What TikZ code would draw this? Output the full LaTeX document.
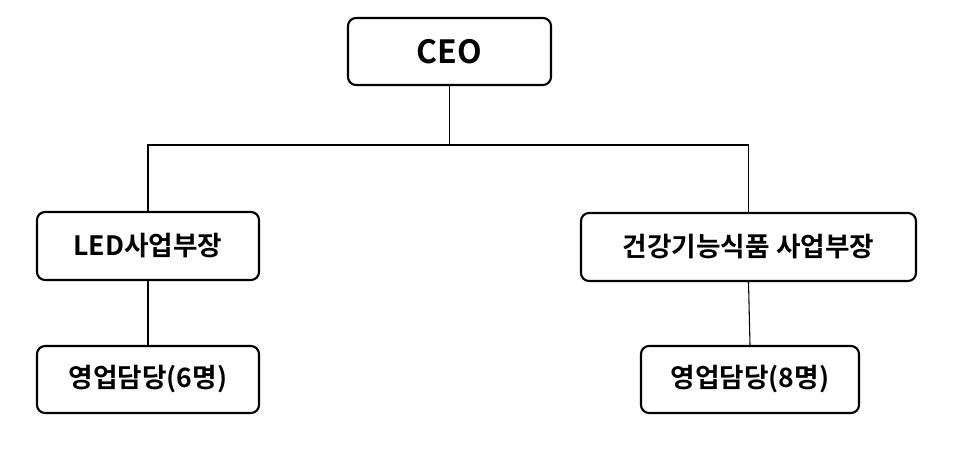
\documentclass[tikz,border=0pt]{standalone}
\usepackage{fontspec}
\setmainfont{Noto Sans CJK KR}[BoldFont={Noto Sans CJK KR Bold}]
\begin{document}
\begin{tikzpicture}[x=0.75pt,y=-0.75pt,
  box/.style={draw,line width=1.6pt,rounded corners=6pt,inner sep=0pt,font=\bfseries\fontsize{20}{24}\selectfont},
  conn/.style={line width=0.8pt}]
\useasboundingbox (0,0) rectangle (956,470);
\node[box,minimum width=203*0.75pt,minimum height=67*0.75pt,font=\bfseries\fontsize{24}{28}\selectfont] (ceo) at (449.5,51.5) {CEO};
\node[box,minimum width=222*0.75pt,minimum height=68*0.75pt] (led) at (148,246) {LED사업부장};
\node[box,minimum width=335*0.75pt,minimum height=68*0.75pt] (hf) at (748.5,247) {건강기능식품 사업부장};
\node[box,minimum width=222*0.75pt,minimum height=67*0.75pt] (s1) at (148,379.5) {영업담당(6명)};
\node[box,minimum width=218*0.75pt,minimum height=67*0.75pt] (s2) at (750,379.5) {영업담당(8명)};
\coordinate (j) at (449.5,145);
\draw[conn] (ceo.south) -- (j);
\draw[conn] (led.north) |- (j) -| (hf.north);
\draw[conn] (led) -- (s1);
\draw[conn] (hf.south) -- (s2.north);
\end{tikzpicture}
\end{document}
